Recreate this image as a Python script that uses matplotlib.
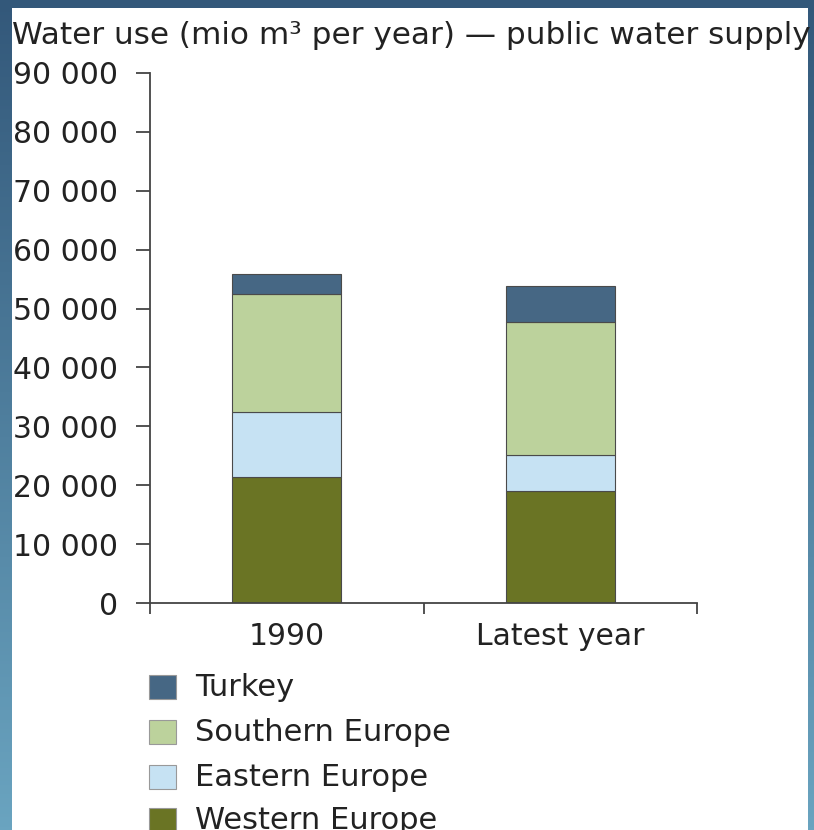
import numpy as np
import matplotlib.pyplot as plt
from matplotlib.patches import Rectangle
from matplotlib.colors import LinearSegmentedColormap

# data
categories = ["1990", "Latest year"]
western = [21400, 19000]
eastern = [11000, 6100]
southern = [20100, 22600]
turkey = [3400, 6100]
series_names = ["Western Europe", "Eastern Europe", "Southern Europe", "Turkey"]
colors = ["#6a7424", "#c6e2f3", "#bcd29c", "#466784"]
yticks = [0, 10000, 20000, 30000, 40000, 50000, 60000, 70000, 80000, 90000]
title = "Water use (mio m\u00b3 per year) \u2014 public water supply"

W, H = 814, 830
fig = plt.figure(figsize=(W / 100, H / 100), dpi=100)

# slide background: blue gradient frame with white panel
bg = fig.add_axes([0, 0, 1, 1], zorder=-10)
grad = np.linspace(0, 1, 256).reshape(-1, 1)
bg.imshow(grad, aspect="auto", extent=[0, 1, 0, 1], origin="lower",
          cmap=LinearSegmentedColormap.from_list("bgc", ["#6aa4c0", "#33587a"]))
bg.add_patch(Rectangle((12 / W, 0), (808 - 12) / W, 1 - 8 / H,
                       facecolor="white", edgecolor="none"))
bg.set_xlim(0, 1)
bg.set_ylim(0, 1)
bg.axis("off")

ax = fig.add_axes([150 / W, 1 - 603 / H, (697 - 150) / W, (603 - 73) / H])
ax.patch.set_alpha(0)

x = np.arange(len(categories))
bottom = np.zeros(len(categories))
for vals, name, c in zip([western, eastern, southern, turkey], series_names, colors):
    ax.bar(x, vals, width=0.4, bottom=bottom, color=c, edgecolor="#4a4a4a",
           linewidth=0.8, label=name)
    bottom += np.array(vals)

ax.set_xlim(-0.5, 1.5)
ax.set_ylim(0, 90000)
ax.set_yticks(yticks)
ax.set_yticklabels([f"{v:,}".replace(",", " ") for v in yticks])
ax.set_xticks(x)
ax.set_xticklabels(categories)
ax.set_xticks([-0.5, 0.5, 1.5], minor=True)
ax.tick_params(axis="x", which="major", length=0, pad=14, labelsize=21.5, colors="#222222")
ax.tick_params(axis="x", which="minor", length=8, width=1.3, direction="out", color="#444444")
ax.tick_params(axis="y", length=10, width=1.3, pad=13, labelsize=21.5, colors="#222222")
ax.tick_params(axis="y", color="#444444")
for s in ["top", "right"]:
    ax.spines[s].set_visible(False)
for s in ["left", "bottom"]:
    ax.spines[s].set_color("#444444")
    ax.spines[s].set_linewidth(1.3)

fig.text(12 / W, 1 - 35 / H, title, fontsize=22.4, color="#222222",
         va="center", ha="left")

# legend drawn by hand, top entry first
row_y = [687, 732, 777, 820]
for yc, name, c in zip(row_y, series_names[::-1], colors[::-1]):
    fig.patches.append(Rectangle((149 / W, 1 - (yc + 12) / H), 27 / W, 24 / H,
                                 facecolor=c, edgecolor="#999999", linewidth=0.8,
                                 transform=fig.transFigure, figure=fig))
    fig.text(195 / W, 1 - yc / H, name, fontsize=22, color="#222222",
             va="center", ha="left")

fig.savefig("out.png", dpi=100)
